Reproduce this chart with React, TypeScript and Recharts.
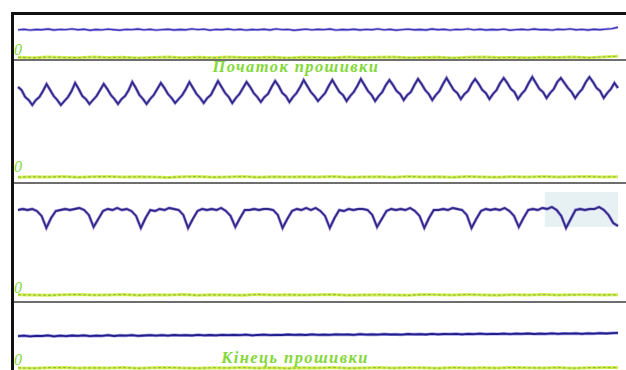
import { LineChart, Line, XAxis, YAxis, ReferenceArea } from 'recharts';

// panel 1 – before flashing, almost flat trace
const p1Signal = [
  27.6, 28.2, 27.4, 28.0, 27.8, 28.5, 27.5, 28.1, 27.9, 28.6,
  27.7, 28.3, 27.2, 28.0, 27.6, 28.4, 27.8, 27.3, 28.1, 27.9,
  28.5, 27.6, 28.2, 27.4, 27.9, 28.3, 27.5, 28.0, 27.7, 28.6,
  27.9, 28.4, 27.3, 28.1, 27.8, 28.5, 27.6, 28.2, 27.4, 28.0,
  27.7, 28.3, 27.5, 28.6, 27.9, 28.1, 27.2, 27.8, 28.4, 27.6,
  28.2, 27.9, 28.5, 27.4, 28.0, 27.7, 28.3, 27.5, 28.1, 27.8,
  28.6, 27.6, 28.2, 27.3, 27.9, 28.4, 27.7, 28.0, 27.5, 28.5,
  27.8, 28.2, 27.4, 28.1, 27.9, 28.6, 27.6, 28.3, 27.5, 28.0,
  27.7, 28.4, 27.3, 27.9, 28.2, 27.6, 28.5, 27.8, 28.0, 27.4,
  28.3, 27.9, 28.6, 27.7, 28.1, 27.5, 28.2, 27.8, 28.4, 28.9, 30.2,
];

// panel 2 – start of flashing
const p2Signal = [
  90, 87, 80, 77, 72, 77, 80, 86,
  93, 87, 81, 77, 72, 76, 80, 86,
  94, 88, 81, 78, 73, 77, 81, 87,
  93, 88, 82, 78, 73, 78, 81, 87,
  95, 89, 82, 78, 73, 78, 82, 88,
  94, 89, 83, 79, 74, 78, 82, 88,
  95, 89, 83, 79, 74, 79, 82, 89,
  96, 90, 84, 80, 74, 79, 83, 89,
  95, 90, 84, 80, 75, 80, 83, 90,
  96, 91, 84, 81, 75, 80, 84, 90,
  97, 91, 85, 81, 76, 80, 84, 91,
  97, 91, 85, 82, 76, 81, 85, 91,
  98, 92, 86, 82, 76, 81, 85, 92,
  97, 92, 86, 83, 77, 82, 85, 92,
  98, 93, 87, 83, 77, 82, 86, 93,
  99, 93, 87, 84, 78, 83, 86, 93,
  98, 93, 87, 84, 78, 83, 87, 94,
  99, 94, 88, 85, 78, 83, 87, 94,
  100, 94, 88, 85, 79, 84, 88, 95,
  99, 94, 89, 85, 79, 84, 88, 95,
  100, 95, 89, 86, 79, 84, 88, 94,
  89,
];

// panel 3 – middle of flashing
const p3Signal = [
  85, 86, 85, 86, 84, 79, 67, 77, 84, 85,
  86, 85, 86, 87, 85, 80, 68, 76, 84, 86,
  85, 87, 85, 86, 84, 79, 67, 77, 85, 84,
  86, 85, 87, 86, 85, 80, 67, 76, 84, 86,
  85, 86, 85, 87, 84, 79, 68, 77, 85, 85,
  86, 85, 86, 86, 85, 80, 67, 76, 84, 86,
  85, 87, 85, 87, 84, 79, 67, 77, 85, 84,
  86, 85, 86, 86, 85, 80, 68, 76, 84, 86,
  85, 86, 85, 87, 84, 79, 67, 77, 85, 85,
  86, 85, 87, 86, 85, 80, 67, 76, 84, 86,
  85, 86, 85, 87, 84, 79, 68, 77, 85, 86,
  85, 87, 86, 88, 85, 79, 67, 76, 85, 86,
  85, 86, 86, 88, 85, 80, 72, 69,
];

// panel 4 – end of flashing
const p4Signal = [
  31.8, 32.4, 31.6, 32.2, 32.0, 32.6, 31.7, 32.3, 31.9, 32.5,
  32.1, 32.7, 31.8, 32.4, 32.2, 32.8, 32.0, 32.6, 32.3, 32.9,
  32.2, 32.5, 32.8, 32.3, 32.9, 32.4, 33.0, 32.6, 32.8, 32.5,
  33.1, 32.7, 33.0, 32.6, 33.2, 32.8, 33.1, 32.9, 33.3, 32.7,
  33.0, 33.4, 32.9, 33.2, 33.0, 33.5, 33.1, 33.3, 33.0, 33.6,
  33.2, 33.4, 33.1, 33.7, 33.3, 33.5, 33.2, 33.8, 33.4, 33.6,
  33.3, 33.9, 33.5, 33.7, 33.4, 34.0, 33.6, 33.9, 33.5, 34.1,
  33.7, 34.0, 33.8, 34.2, 33.7, 34.1, 33.9, 34.3, 33.8, 34.2,
  34.0, 34.4, 33.9, 34.3, 34.1, 34.5, 34.0, 34.4, 34.2, 34.6,
  34.1, 34.5, 34.3, 34.7, 34.2, 34.6, 34.4, 34.8, 34.5, 34.9, 35.2,
];

// zero lines (green)
const p1Base = [
  0.2, -0.3, 0.4, 0, -0.2, 0.5, -0.1, 0.3, -0.4, 0.1,
  0.4, -0.2, 0.2, -0.3, 0.5, 0, -0.1, 0.3, -0.4, 0.2,
  0.1, -0.3, 0.4, -0.1, 0.2, 0.5, -0.2, 0, 0.3, -0.4,
  0.2, 0.4, -0.1, 0.1, -0.3, 0.3, 0, 0.5, -0.2, 0.6, 1.2,
];
const p2Base = [
  -0.2, 0.3, 0, 0.4, -0.3, 0.2, 0.5, -0.1, 0.3, 0,
  -0.4, 0.2, 0.4, -0.2, 0.1, 0.5, -0.3, 0.2, 0, 0.3,
  -0.1, 0.4, -0.3, 0.1, 0.3, -0.2, 0.5, 0, 0.2, -0.3,
  0.4, 0.1, -0.2, 0.3, 0, 0.5, -0.1, 0.2, 0.4, 0, 0.3,
];
const p3Base = [
  0.3, 0, -0.3, 0.2, 0.4, -0.1, 0.1, 0.5, -0.2, 0.3,
  0, 0.4, -0.3, 0.2, 0.1, -0.2, 0.5, 0, 0.3, -0.1,
  0.2, 0.4, -0.2, 0.1, 0.3, 0, -0.3, 0.4, 0.2, -0.1,
  0.5, 0.1, -0.2, 0.3, 0, 0.4, -0.1, 0.2, 0.3, 0.1, 0.2,
];
const p4Base = [
  0.1, -0.2, 0.3, 0.5, -0.1, 0.2, 0, 0.4, -0.3, 0.2,
  0.5, 0, -0.2, 0.3, 0.1, 0.4, -0.1, 0.2, -0.3, 0.3,
  0, 0.5, -0.2, 0.1, 0.4, -0.1, 0.3, 0.2, -0.2, 0.4,
  0.1, 0.3, -0.1, 0.5, 0.2, 0, 0.4, -0.2, 0.3, 0.5, 0.4,
];

const startLabel = 'Початок прошивки';
const endLabel = 'Кінець прошивки';

const toPoints = (vals: number[]) =>
  vals.map((v, i) => ({ t: i / (vals.length - 1), v }));

const GREEN_TEXT = '#84d83a';

interface PanelProps {
  top: number;
  height: number;
  domain: [number, number];
  signal: number[];
  base: number[];
  strokeCore: string;
  strokeGlow: string;
  width?: number;
  shade?: { x1: number; x2: number; y1: number; y2: number };
}

function Panel({ top, height, domain, signal, base, strokeCore, strokeGlow, width = 2, shade }: PanelProps) {
  const sig = toPoints(signal);
  const bl = toPoints(base);
  return (
    <div style={{ position: 'absolute', left: 14, top }}>
      <LineChart width={612} height={height} data={sig} margin={{ top: 0, right: 8, bottom: 0, left: 4 }}>
        <XAxis type="number" dataKey="t" domain={[0, 1]} hide />
        <YAxis type="number" domain={domain} hide allowDataOverflow />
        {shade && (
          <ReferenceArea
            x1={shade.x1}
            x2={shade.x2}
            y1={shade.y1}
            y2={shade.y2}
            fill="#d3e3e8"
            fillOpacity={0.55}
            stroke="none"
            ifOverflow="hidden"
          />
        )}
        <Line data={bl} dataKey="v" type="linear" stroke="#d8ec55" strokeWidth={3} dot={false} isAnimationActive={false} />
        <Line data={bl} dataKey="v" type="linear" stroke="#86c43a" strokeWidth={1.2} strokeDasharray="3 2" dot={false} isAnimationActive={false} />
        <Line data={sig} dataKey="v" type="linear" stroke={strokeGlow} strokeWidth={width + 1.4} strokeOpacity={0.55} dot={false} isAnimationActive={false} />
        <Line data={sig} dataKey="v" type="linear" stroke={strokeCore} strokeWidth={width} dot={false} isAnimationActive={false} />
      </LineChart>
    </div>
  );
}

const zeroStyle = (top: number): React.CSSProperties => ({
  position: 'absolute',
  left: 14,
  top,
  fontFamily: '"Liberation Serif", serif',
  fontStyle: 'italic',
  fontSize: 16,
  lineHeight: 1,
  color: GREEN_TEXT,
});

const titleStyle = (top: number, center: number): React.CSSProperties => ({
  position: 'absolute',
  left: center - 150,
  width: 300,
  top,
  textAlign: 'center',
  fontFamily: '"Liberation Serif", serif',
  fontStyle: 'italic',
  fontWeight: 'bold',
  fontSize: 16.5,
  letterSpacing: 1.4,
  lineHeight: 1,
  color: GREEN_TEXT,
  whiteSpace: 'nowrap',
});

const sep = (top: number): React.CSSProperties => ({
  position: 'absolute',
  left: 14,
  top,
  width: 612,
  height: 2,
  background: '#6e6e6e',
});

export default function App() {
  return (
    <div
      style={{
        position: 'fixed',
        left: 0,
        top: 0,
        width: 626,
        height: 370,
        background: '#fff',
        overflow: 'hidden',
      }}
    >
      <Panel top={15} height={44} domain={[-1.5, 42.5]} signal={p1Signal} base={p1Base} strokeCore="#3d36b8" strokeGlow="#8a7de0" width={1.4} />
      <Panel top={61} height={120} domain={[-4, 116]} signal={p2Signal} base={p2Base} strokeCore="#2f2a88" strokeGlow="#7558cc" width={1.8} />
      <Panel
        top={184}
        height={116}
        domain={[-5, 111]}
        signal={p3Signal}
        base={p3Base}
        strokeCore="#2f2a88"
        strokeGlow="#7a52d0"
        width={1.8}
        shade={{ x1: 0.878, x2: 1, y1: 68, y2: 103 }}
      />
      <Panel top={303} height={67} domain={[-2, 65]} signal={p4Signal} base={p4Base} strokeCore="#201d8c" strokeGlow="#5a50c8" width={1.8} />

      <div style={sep(59)} />
      <div style={sep(182)} />
      <div style={sep(301)} />

      {/* black frame, left and top */}
      <div style={{ position: 'absolute', left: 11, top: 12, width: 3, height: 358, background: '#111' }} />
      <div style={{ position: 'absolute', left: 11, top: 12, width: 615, height: 3, background: '#111' }} />

      <div style={zeroStyle(42)}>0</div>
      <div style={zeroStyle(159)}>0</div>
      <div style={zeroStyle(280)}>0</div>
      <div style={zeroStyle(352)}>0</div>

      <div style={titleStyle(59, 296)}>{startLabel}</div>
      <div style={titleStyle(350, 295)}>{endLabel}</div>
    </div>
  );
}
